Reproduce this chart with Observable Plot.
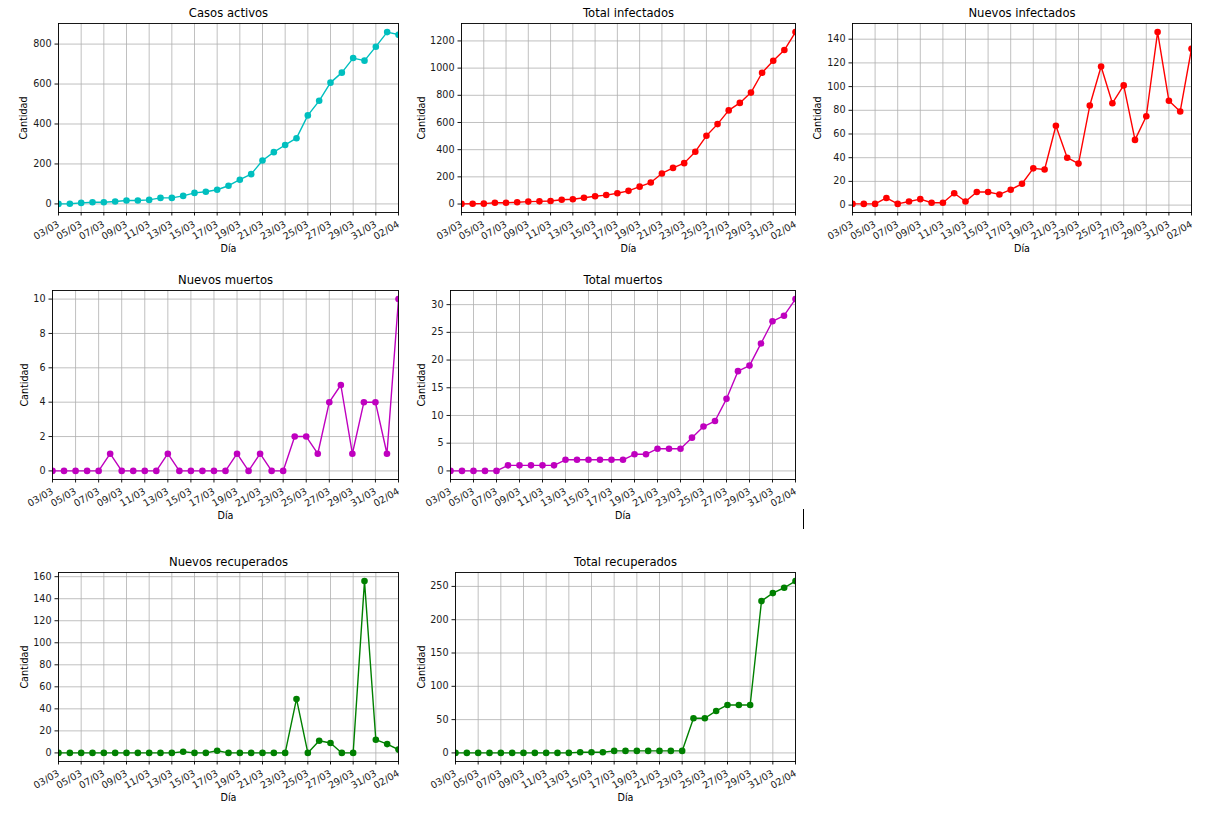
<!DOCTYPE html>
<html>
<head>
<meta charset="utf-8">
<script src="https://cdn.jsdelivr.net/npm/d3@7"></script>
<script src="https://cdn.jsdelivr.net/npm/@observablehq/plot@0.6"></script>
<style>
  html, body { margin: 0; padding: 0; background: #fff; }
  #fig { position: relative; width: 1209px; height: 818px; background: #fff; overflow: hidden; }
  .panel { position: absolute; }
  .panel svg { overflow: visible; }
  #stray { position: absolute; left: 803px; top: 509px; width: 1px; height: 20px; background: #000; }
</style>
</head>
<body>
<div id="fig"><div id="stray"></div></div>
<script>
// ---- Data ----
const days = [
  "2020-03-03","2020-03-04","2020-03-05","2020-03-06","2020-03-07","2020-03-08","2020-03-09","2020-03-10",
  "2020-03-11","2020-03-12","2020-03-13","2020-03-14","2020-03-15","2020-03-16","2020-03-17","2020-03-18",
  "2020-03-19","2020-03-20","2020-03-21","2020-03-22","2020-03-23","2020-03-24","2020-03-25","2020-03-26",
  "2020-03-27","2020-03-28","2020-03-29","2020-03-30","2020-03-31","2020-04-01","2020-04-02"
];
const xTickDays = ["2020-03-03","2020-03-05","2020-03-07","2020-03-09","2020-03-11","2020-03-13","2020-03-15","2020-03-17",
  "2020-03-19","2020-03-21","2020-03-23","2020-03-25","2020-03-27","2020-03-29","2020-03-31","2020-04-02"];

const casosActivos = [0,1,5,8,8,12,17,17,20,30,30,40,55,61,71,91,121,149,217,259,295,329,443,516,607,657,730,717,787,860,847];
const totalInfectados = [1,2,3,9,10,13,18,20,22,32,35,46,57,66,79,97,128,158,225,266,301,385,502,588,689,744,820,966,1054,1133,1265];
const nuevosInfectados = [1,1,1,6,1,3,5,2,2,10,3,11,11,9,13,18,31,30,67,40,35,84,117,86,101,55,75,146,88,79,132];
const nuevosMuertos = [0,0,0,0,0,1,0,0,0,0,1,0,0,0,0,0,1,0,1,0,0,2,2,1,4,5,1,4,4,1,10];
const totalMuertos = [0,0,0,0,0,1,1,1,1,1,2,2,2,2,2,2,3,3,4,4,4,6,8,9,13,18,19,23,27,28,31];
const nuevosRecuperados = [0,0,0,0,0,0,0,0,0,0,0,1,0,0,2,0,0,0,0,0,0,49,0,11,9,0,0,156,12,8,3];
const totalRecuperados = [0,0,0,0,0,0,0,0,0,0,0,1,1,1,3,3,3,3,3,3,3,52,52,63,72,72,72,228,240,248,258];

const ticksActivos = [0,200,400,600,800];
const ticksTotalInf = [0,200,400,600,800,1000,1200];
const ticksNuevosInf = [0,20,40,60,80,100,120,140];
const ticksNuevosMuertos = [0,2,4,6,8,10];
const ticksTotalMuertos = [0,5,10,15,20,25,30];
const ticksNuevosRec = [0,20,40,60,80,100,120,140,160];
const ticksTotalRec = [0,50,100,150,200,250];

// ---- Panels (layout) ----
const panels = [
  {title: "Casos activos",      values: casosActivos,      color: "#00bfbf", ticks: ticksActivos,      L: 58,  R: 398,  T: 23,  B: 212, lab: 35},
  {title: "Total infectados",   values: totalInfectados,   color: "#ff0000", ticks: ticksTotalInf,     L: 461, R: 795,  T: 23,  B: 212, lab: 40},
  {title: "Nuevos infectados",  values: nuevosInfectados,  color: "#ff0000", ticks: ticksNuevosInf,    L: 852, R: 1191, T: 23,  B: 212, lab: 35},
  {title: "Nuevos muertos",     values: nuevosMuertos,     color: "#bf00bf", ticks: ticksNuevosMuertos,L: 52,  R: 398,  T: 290, B: 479, lab: 28},
  {title: "Total muertos",      values: totalMuertos,      color: "#bf00bf", ticks: ticksTotalMuertos, L: 450, R: 795,  T: 290, B: 479, lab: 29},
  {title: "Nuevos recuperados", values: nuevosRecuperados, color: "#008000", ticks: ticksNuevosRec,    L: 58,  R: 398,  T: 572, B: 761, lab: 34},
  {title: "Total recuperados",  values: totalRecuperados,  color: "#008000", ticks: ticksTotalRec,     L: 455, R: 795,  T: 572, B: 761, lab: 34}
];

const parse = d3.utcParse("%Y-%m-%d");
const dates = days.map(parse);
const tickDates = xTickDays.map(parse);
const ML = 50, MR = 12, MT = 28, MB = 50;
const fig = document.getElementById("fig");

for (const p of panels) {
  const data = dates.map((d, i) => ({date: d, value: p.values[i]}));
  const lo = d3.min(p.values), hi = d3.max(p.values);
  const pad = (hi - lo) * 0.05;
  const chart = Plot.plot({
    width: p.R - p.L + ML + MR,
    height: p.B - p.T + MT + MB,
    marginLeft: ML, marginRight: MR, marginTop: MT, marginBottom: MB,
    style: {fontFamily: "'DejaVu Sans', sans-serif", fontSize: "9.6px", color: "#1a1a1a", background: "transparent", overflow: "visible"},
    x: {type: "utc", domain: [dates[0], dates[dates.length - 1]], ticks: tickDates,
        tickFormat: d3.utcFormat("%d/%m"), tickRotate: -30, tickSize: 3.5, tickPadding: 7.5, label: null},
    y: {domain: [lo - pad, hi + pad], ticks: p.ticks, tickFormat: d3.format("d"), tickSize: 3.5, tickPadding: 3.5, label: null},
    marks: [
      Plot.ruleX(tickDates, {stroke: "#b0b0b0", strokeOpacity: 1, strokeWidth: 0.8}),
      Plot.ruleY(p.ticks, {stroke: "#b0b0b0", strokeOpacity: 1, strokeWidth: 0.8}),
      Plot.line(data, {x: "date", y: "value", stroke: p.color, strokeWidth: 1.4, clip: true}),
      Plot.dot(data, {x: "date", y: "value", r: 3.3, fill: p.color, stroke: "none", clip: true}),
      Plot.frame({stroke: "#000", strokeWidth: 0.9}),
      Plot.text([p.title], {frameAnchor: "top", dy: -10, fontSize: 11.6, fill: "#000", textAnchor: "middle", lineAnchor: "middle"}),
      Plot.text(["Cantidad"], {frameAnchor: "left", dx: -p.lab, rotate: -90, fontSize: 9.6, fill: "#000", textAnchor: "middle", lineAnchor: "middle"}),
      Plot.text(["Día"], {frameAnchor: "bottom", dy: 36, fontSize: 9.6, fill: "#000", textAnchor: "middle", lineAnchor: "middle"})
    ]
  });
  const div = document.createElement("div");
  div.className = "panel";
  div.style.left = (p.L - ML) + "px";
  div.style.top = (p.T - MT) + "px";
  div.appendChild(chart);
  fig.appendChild(div);
}
</script>
</body>
</html>
